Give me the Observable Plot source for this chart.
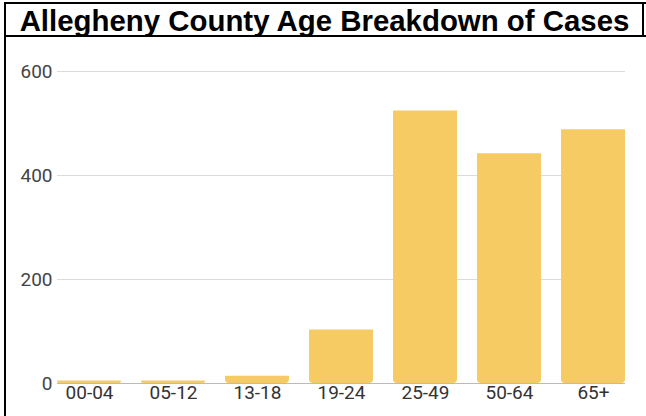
<!DOCTYPE html>
<html><head><meta charset="utf-8">
<script src="https://cdn.jsdelivr.net/npm/d3@7"></script>
<script src="https://cdn.jsdelivr.net/npm/@observablehq/plot@0.6"></script>
<style>
body{margin:0;background:#fff;}
#wrap{position:relative;width:646px;height:416px;overflow:hidden;background:#fff;}
.ln{position:absolute;background:#000;}
#title{position:absolute;left:6px;top:6px;width:637px;text-align:center;font-family:"Liberation Sans",Arial,sans-serif;font-weight:bold;font-size:29.4px;line-height:29px;color:#000;margin:0;white-space:nowrap;}
#chart{position:absolute;left:0;top:38px;}
</style></head><body>
<div id="wrap">
<div class="ln" style="left:4px;top:2px;width:642px;height:2px"></div>
<div class="ln" style="left:4px;top:35px;width:642px;height:2px"></div>
<div class="ln" style="left:4px;top:2px;width:2px;height:414px"></div>
<div class="ln" style="left:642px;top:2px;width:2px;height:35px"></div>
<h1 id="title">Allegheny County Age Breakdown of Cases</h1>
<div id="chart"></div>
</div>
<script>
const ageGroups = ["00-04","05-12","13-18","19-24","25-49","50-64","65+"];
const caseCounts = [5,5,14,103,524,442,488];
const yTicks = [0,200,400,600];
const barColor = "#f6cb64";

const data = ageGroups.map((g, i) => ({age: g, cases: caseCounts[i]}));

const plot = Plot.plot({
  width: 646,
  height: 378,
  marginTop: 33,
  marginBottom: 33,
  marginLeft: 57,
  marginRight: 21,
  style: {fontFamily: "Roboto, sans-serif", fontSize: "19px", background: "transparent"},
  x: {domain: ageGroups, paddingInner: 0.238, paddingOuter: 0, round: false, label: null},
  y: {domain: [0, 600], label: null},
  marks: [
    Plot.gridY(yTicks, {stroke: "#dcdcdc", strokeOpacity: 1}),
    Plot.axisY(yTicks, {tickSize: 0, tickPadding: 5, fill: "#444", fontSize: 19, label: null}),
    Plot.ruleY([0], {stroke: "#bbb"}),
    Plot.barY(data, {x: "age", y: "cases", fill: barColor, ry2: 4}),
    Plot.axisX({tickSize: 0, tickPadding: 2, fill: "#333", fontSize: 19, label: null})
  ]
});
document.getElementById("chart").appendChild(plot);
</script>
</body></html>
